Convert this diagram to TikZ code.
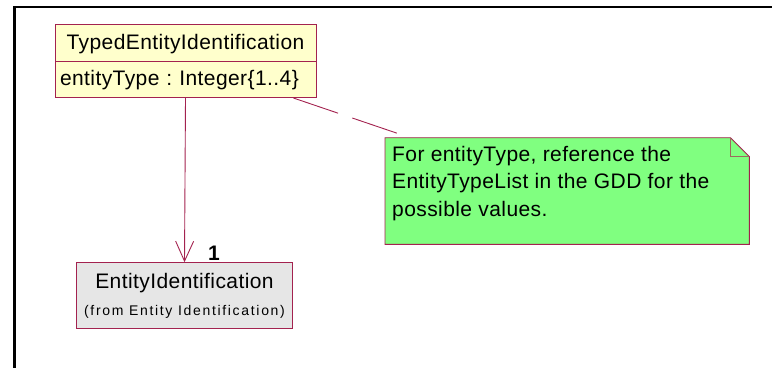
\documentclass[tikz,border=0pt]{standalone}
\usepackage{fontspec}
\setmainfont{Liberation Sans}[LetterSpace=2]
\usetikzlibrary{arrows.meta,positioning,calc}
\frenchspacing
\definecolor{rborder}{HTML}{A3224F}
\definecolor{rclass}{HTML}{FFFFCC}
\definecolor{rgrey}{HTML}{E6E6E6}
\definecolor{rnote}{HTML}{80FF80}
\definecolor{rfold}{HTML}{9C6B5E}
\tikzset{
  comp/.style={draw=rborder,fill=rclass,line width=0.9pt,minimum width=261pt,inner sep=5pt,font=\fontsize{21}{25}\selectfont},
  entbox/.style={draw=rborder,fill=rgrey,line width=0.9pt,minimum width=215.6pt,minimum height=65.6pt,align=center,inner sep=2pt,font=\fontsize{21}{26.7}\selectfont},
  notebox/.style={draw=rborder,fill=rnote,line width=0.9pt},
  foldline/.style={draw=rfold,line width=0.9pt},
  notetext/.style={align=left,inner sep=0pt,font=\fontsize{21}{27.5}\selectfont},
  assoc/.style={-{Straight Barb[length=20pt,width=18pt]},line width=0.9pt,draw=rborder},
  anchorline/.style={line width=0.9pt,draw=rborder,dash pattern=on 47pt off 15pt},
  frame/.style={line width=2.2pt,draw=black},
  mult/.style={font=\fontsize{21}{25}\selectfont\bfseries,inner sep=0pt},
}
\begin{document}
\begin{tikzpicture}[x=1pt,y=-1pt]
  \useasboundingbox (0,0) rectangle (772,368);
  \draw[frame] (772,7) -- (14.5,7) -- (14.5,368);
  % class and its attribute compartment
  \node[comp,minimum height=37pt,text height=16pt,text depth=2pt] (tei) at (185.5,42.5) {TypedEntityIdentification};
  \node[comp,minimum height=35.7pt,anchor=north,text width=251pt,align=left] (teiattr) at (tei.south) {entityType : Integer\{1..4\}};
  \node[entbox] (ent) at (184.5,295.5) {EntityIdentification\\{\fontsize{14}{17}\selectfont\addfontfeature{LetterSpace=12}(from Entity Identification)}};
  \draw[assoc] (teiattr.south) -- (ent.north);
  \node[mult,anchor=base] (one) at (214,260) {1};
  % note with folded corner
  \node[minimum width=364pt,minimum height=106.3pt,anchor=north west,inner sep=0pt] (note) at (385,137.7) {};
  \draw[notebox] (note.north west) -- ($(note.north east)+(-19,0)$) -- ($(note.north east)+(0,19)$) -- (note.south east) -- (note.south west) -- cycle;
  \draw[foldline] ($(note.north east)+(-19,0)$) |- ($(note.north east)+(0,19)$);
  \node[notetext,anchor=north west] (notetxt) at ($(note.north west)+(7,8)$) {For entityType, reference the\\EntityTypeList in the GDD for the\\possible values.};
  \coordinate (teiend) at ($(teiattr.south west)+(239,0)$);
  \coordinate (noteend) at ($(note.north west)+(12,-4.5)$);
  \draw[anchorline] (teiend) -- (noteend);
\end{tikzpicture}
\end{document}
